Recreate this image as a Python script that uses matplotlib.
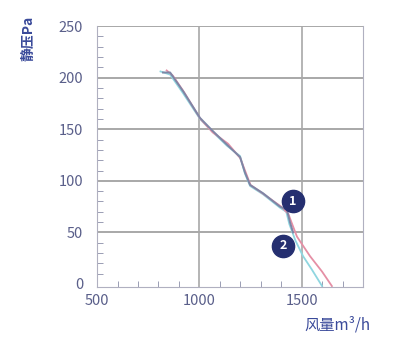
import matplotlib.pyplot as plt
from matplotlib.ticker import MultipleLocator

plt.rcParams['font.family'] = ['Noto Sans CJK SC', 'DejaVu Sans']

# curve data (flow m3/h, static pressure Pa)
flow_main = [822, 857, 920, 1003, 1062, 1135, 1199, 1223, 1248, 1311, 1394, 1428, 1443, 1458]
pres_main = [205, 205, 187, 161, 149, 135, 123, 108, 96, 88, 75, 72, 60, 50]

flow_cyan = [810, 857, 920, 1003, 1062, 1135, 1199, 1223, 1248, 1311, 1394, 1425, 1440, 1470, 1507, 1550, 1600]
pres_cyan = [206, 203, 185, 160, 148, 134, 124, 107, 95, 87, 74, 70, 58, 42, 27, 14, -2]

flow_pink = [840, 870, 925, 1005, 1065, 1140, 1200, 1225, 1250, 1315, 1400, 1435, 1450, 1477, 1541, 1600, 1648]
pres_pink = [207, 202, 186, 160, 147, 136, 122, 109, 96, 87, 75, 68, 60, 46, 27, 12, -2]

label_names = ['1', '2']
label_flow = [1458, 1409]
label_pres = [80, 37]

fig = plt.figure(figsize=(3.98, 3.43), dpi=100)
ax = fig.add_axes([0.244, 0.163, 0.668, 0.761])

ax.plot(flow_cyan, pres_cyan, color='#8fd6e0', lw=1.3)
ax.plot(flow_pink, pres_pink, color='#e58fa5', lw=1.3)
ax.plot(flow_main, pres_main, color='#7e86a6', lw=1.4)

for name, fx, py in zip(label_names, label_flow, label_pres):
    ax.plot(fx, py, 'o', ms=16, color='#252f70', zorder=5)
    ax.text(fx, py, name, color='white', fontsize=9, fontweight='bold',
            ha='center', va='center', zorder=6)

ax.set_xlim(500, 1800)
ax.set_ylim(-3, 250)
ax.set_xticks([500, 1000, 1500])
ax.set_yticks([0, 50, 100, 150, 200, 250])
ax.xaxis.set_minor_locator(MultipleLocator(100))
ax.yaxis.set_minor_locator(MultipleLocator(10))
ax.tick_params(which='minor', direction='in', length=4, color='#8a8ea8')
ax.tick_params(which='major', direction='in', length=0, labelsize=10.5,
               labelcolor='#5a5f8a')
ax.tick_params(axis='y', which='major', pad=10)
ax.tick_params(axis='x', which='major', pad=5)

for y in [50, 100, 150, 200, 250]:
    ax.axhline(y, color='#9a9a9a', lw=1.2, zorder=0)
for x in [1000, 1500]:
    ax.axvline(x, color='#a8a8a8', lw=1.2, zorder=0)
for s in ax.spines.values():
    s.set_color('#b0b0c0')
ax.spines['top'].set_visible(False)

fig.text(0.072, 0.888, '静压Pa', rotation=90, color='#3a4a9a', fontsize=10,
         fontweight='bold', ha='center', va='center')
fig.text(0.848, 0.052, '风量m³/h', color='#3a4a9a', fontsize=11,
         ha='center', va='center')

fig.savefig('out.png', dpi=100)
